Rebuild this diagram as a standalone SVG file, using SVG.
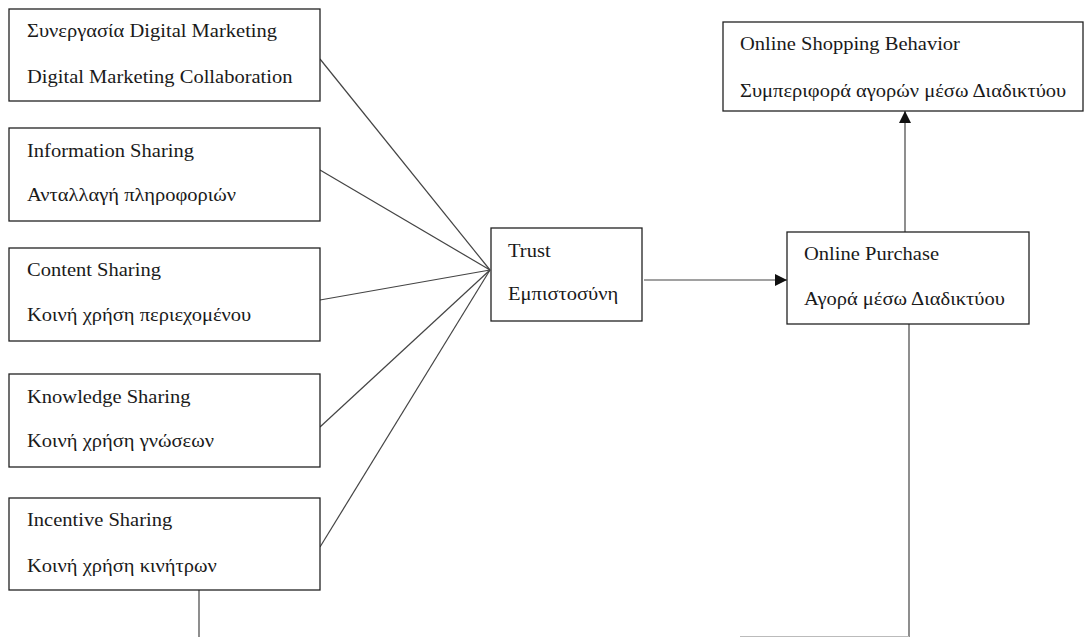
<svg xmlns="http://www.w3.org/2000/svg" width="1084" height="637" viewBox="0 0 1084 637">
<style>
.box{fill:#fff;stroke:#222;stroke-width:1.3}
.t{font-family:"Liberation Serif","Times New Roman",serif;font-size:18px;fill:#1a1a1a}
.c{fill:none;stroke:#444;stroke-width:1.2}
</style>
<defs>
<marker id="ah" viewBox="0 0 12 12" refX="12" refY="6" markerWidth="12" markerHeight="12" markerUnits="userSpaceOnUse" orient="auto">
<path d="M0,0 L12,6 L0,12 Z" fill="#111"/>
</marker>
</defs>
<rect width="1084" height="637" fill="#fff"/>
<g id="connectors">
<line class="c" x1="320" y1="59" x2="490" y2="270"/>
<line class="c" x1="320" y1="170" x2="490" y2="270"/>
<line class="c" x1="320" y1="300" x2="490" y2="270"/>
<line class="c" x1="320" y1="427" x2="490" y2="270"/>
<line class="c" x1="320" y1="547" x2="490" y2="270"/>
<line class="c" x1="644" y1="280" x2="787" y2="280" marker-end="url(#ah)"/>
<line class="c" x1="905" y1="232" x2="905" y2="111" marker-end="url(#ah)"/>
<line class="c" x1="199" y1="590" x2="199" y2="637"/>
<line class="c" x1="909" y1="324" x2="909" y2="637"/>
<line x1="740" y1="636.5" x2="909" y2="636.5" stroke="#bbb" stroke-width="1"/>
</g>
<g id="n1">
<rect class="box" x="9" y="9" width="311" height="92"/>
<text class="t" transform="translate(27 37) scale(1.14 1)">Συνεργασία Digital Marketing</text>
<text class="t" transform="translate(27 83) scale(1.14 1)">Digital Marketing Collaboration</text>
</g>
<g id="n2">
<rect class="box" x="9" y="128" width="311" height="93"/>
<text class="t" transform="translate(27 157) scale(1.14 1)">Information Sharing</text>
<text class="t" transform="translate(27 201) scale(1.14 1)">Ανταλλαγή πληροφοριών</text>
</g>
<g id="n3">
<rect class="box" x="9" y="248" width="311" height="93"/>
<text class="t" transform="translate(27 276) scale(1.14 1)">Content Sharing</text>
<text class="t" transform="translate(27 321) scale(1.14 1)">Κοινή χρήση περιεχομένου</text>
</g>
<g id="n4">
<rect class="box" x="9" y="374" width="311" height="93"/>
<text class="t" transform="translate(27 403) scale(1.14 1)">Knowledge Sharing</text>
<text class="t" transform="translate(27 447) scale(1.14 1)">Κοινή χρήση γνώσεων</text>
</g>
<g id="n5">
<rect class="box" x="9" y="498" width="311" height="92"/>
<text class="t" transform="translate(27 526) scale(1.14 1)">Incentive Sharing</text>
<text class="t" transform="translate(27 572) scale(1.14 1)">Κοινή χρήση κινήτρων</text>
</g>
<g id="trust">
<rect class="box" x="491" y="228" width="151" height="93"/>
<text class="t" transform="translate(508 257) scale(1.14 1)">Trust</text>
<text class="t" transform="translate(508 300) scale(1.14 1)">Εμπιστοσύνη</text>
</g>
<g id="purchase">
<rect class="box" x="787" y="232" width="242" height="92"/>
<text class="t" transform="translate(804 260) scale(1.14 1)">Online Purchase</text>
<text class="t" transform="translate(804 305) scale(1.14 1)">Αγορά μέσω Διαδικτύου</text>
</g>
<g id="behavior">
<rect class="box" x="723" y="22" width="360" height="89"/>
<text class="t" transform="translate(740 50) scale(1.14 1)">Online Shopping Behavior</text>
<text class="t" transform="translate(740 97) scale(1.14 1)">Συμπεριφορά αγορών μέσω Διαδικτύου</text>
</g>
</svg>
